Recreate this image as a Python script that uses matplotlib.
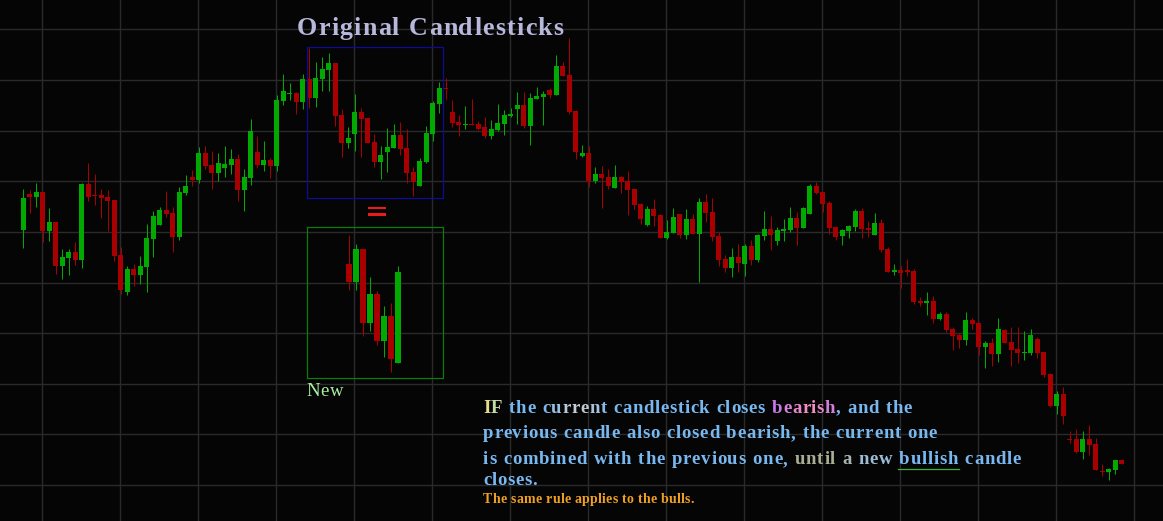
import numpy as np
import matplotlib
matplotlib.use("Agg")
import matplotlib.pyplot as plt
from matplotlib.patches import Rectangle

W, H, DPI = 1163, 521, 100

# ---------------- data (price levels in chart rows: larger value = lower price) -------------
opens = [230, 194, 197, 192, 231, 222, 266, 258, 252, 260, 184, 195, 195, 197, 200, 255, 292, 269, 275, 267,
         239, 225, 210, 213, 237, 193, 177, 180, 153, 165, 173, 168, 165, 159, 190, 178, 152, 165, 160, 166,
         101, 93.5, 93, 102, 79, 98, 79, 70, 63, 115, 143, 134, 112, 118, 142, 162, 152, 148, 135, 148,
         172, 186, 162, 134, 104, 88, 112, 122, 124.5, 124, 124, 127, 136, 130, 124, 116, 109, 105, 126, 99,
         97, 90, 95, 66, 75, 111, 156, 153, 181, 174, 177, 188, 177, 181, 189, 204, 225, 209, 215, 238,
         233, 214, 235, 219, 234, 202, 212, 236, 259, 268, 257, 264, 246, 260, 236, 229, 241, 231, 230, 218,
         228, 214, 186, 192, 203, 227, 236, 231, 227, 211, 228, 235, 223, 249, 272, 270, 270, 271, 301, 303,
         301, 319, 314, 329, 335, 340, 320, 323, 347, 343, 354, 330, 342, 349, 352.5, 353, 339, 352, 374, 406,
         394, 439, 439, 452, 439, 444, 471, 472, 470, 460]
highs = [189, 190, 183, 192, 208, 222, 249, 249, 242, 183, 163, 174, 189, 190, 200, 247, 266, 264, 256, 224,
         211, 207, 191, 207, 187, 175, 170, 147, 146, 151, 153, 146, 149, 154, 169, 119, 136, 141, 158, 95,
         74, 83, 92, 74, 48, 62, 57, 53, 63, 109, 127, 94, 108, 118, 134, 146, 128, 124, 122, 129,
         167, 158, 126, 101, 82, 78, 100, 115, 106, 99, 121, 117, 120, 104, 110, 108, 92, 92, 93, 87,
         91, 88, 55, 62, 38, 110, 145, 146, 167, 166, 169, 165, 176, 171, 189, 203, 206, 199, 214, 220,
         208, 214, 209, 214, 198, 194, 198, 232, 255, 248, 244, 244, 240, 234, 211, 216, 227, 219, 207, 212,
         207, 184, 182, 192, 201, 227, 229, 225, 209, 208, 221, 213, 219, 247, 264, 266, 259, 269, 297, 292,
         296, 312, 312, 327, 333, 312, 318, 322, 341, 338, 318, 329, 327, 327, 331, 329, 337, 352, 373, 391,
         387, 431, 429, 431, 425, 438, 464, 468, 460, 459]
lows = [248, 213, 207, 242, 241, 274, 279, 275, 265, 268, 201, 205, 218, 231, 261, 294, 295, 286, 284, 292,
        257, 225, 217, 252, 240, 195, 186, 183, 169, 189, 181, 177, 174, 201, 211, 185, 168, 171, 178, 171,
        105, 100, 114, 109, 108, 107, 91, 91, 126, 157, 148, 151, 157, 143, 167, 179, 172, 148, 155, 183,
        196, 186, 163, 141, 113, 99, 127, 136, 129, 125, 130, 138, 139, 131, 135, 117, 124, 128, 145, 99,
        125, 98, 95, 76, 114, 159, 157, 187, 183, 208, 189, 188, 193, 215, 209, 224, 226, 226, 238, 239,
        233, 238, 239, 234, 282, 222, 241, 266, 272, 277, 272, 276, 265, 262, 240, 250, 245, 241, 232, 245,
        228, 214, 194, 212, 234, 240, 245, 238, 231, 238, 237, 235, 252, 272, 275, 288, 276, 304, 306, 315,
        323, 320, 332, 350, 348, 345, 329, 355, 368, 366, 362, 343, 366, 363, 360, 355, 358, 377, 407, 414,
        424, 443, 453, 459, 455, 470, 476, 480, 474, 464]
closes = [198, 197, 192, 231, 222, 266, 257, 252, 260, 184, 197, 196, 198, 201, 256, 290, 269, 275, 266, 238,
          216, 210, 214, 237, 192, 186, 180, 153, 166, 173, 163, 164, 159, 190, 177, 131, 165, 160, 166, 100,
          91, 93, 102, 79, 98, 78, 69, 63, 116, 143, 138, 112, 119, 143, 162, 155, 147, 135, 149, 173,
          182, 161, 133, 103, 88, 88.5, 123, 125, 124, 124.5, 129, 136, 129, 123, 115, 114, 105, 126, 98, 96,
          94, 95, 66, 76, 112, 152, 153, 181, 174, 178, 186, 177, 182, 190, 205, 219, 209, 216, 238, 232,
          217, 235, 219, 234, 202, 213, 237, 260, 268, 257, 263, 246, 260, 235, 229, 235, 230, 229, 218, 228,
          208, 186, 193, 204, 228, 237, 230, 226, 211, 229, 230, 223, 250, 272, 270, 273, 272, 302, 303, 301,
          319, 314, 330, 336, 340, 320, 324, 347, 343, 354, 329, 343, 350, 353, 352, 335, 353, 375, 406, 394,
          416, 440, 452, 439, 445, 470, 471.5, 469, 460, 464]

# combined ("New") candles
new_open = [264, 282, 249, 323, 294, 341, 316, 363]
new_high = [235, 244, 249, 277, 291, 306, 303, 266]
new_low = [290, 290, 336, 331, 345, 357, 372, 363]
new_close = [282, 249, 323, 294, 341, 316, 359, 272]

title_text = "Original Candlesticks"
new_label = "New"
rule_lines = [
    [("IF", ["#e6dc8c", "#c4dca4"]), (" the ", "B"), ("current", "CUR"), (" candlestick closes ", "B"),
     ("bearish", "BEAR"), (", and the", "B")],
    [("previous candle also closed bearish, the current one", "B")],
    [("is combined with the previous one, ", "B"), ("until", "#a8ad94"), (" a ", "#a8b4b0"),
     ("new", "#9cbcd6"), (" ", "B"), ("bullish", "B"), (" candle", "B")],
    [("closes.", "B")],
]
footnote = "The same rule applies to the bulls."

# ---------------- styling ----------------
BG = "#050505"
GRID = "#2a2a2a"
GREEN = "#00aa00"
RED = "#a80000"
BLUE = "#78b8f0"
CUR = ["#7cb8ee", "#96c0e4", "#b4cad8", "#c4ccd0", "#c0c8d0", "#a8c0d8", "#88bae8"]
BEAR = ["#c878e8", "#d880dc", "#e888cc", "#f08cc0", "#f090c0", "#e888c8", "#d080d8"]
SERIF = ["Liberation Serif", "DejaVu Serif"]

fig = plt.figure(figsize=(W / DPI, H / DPI), dpi=DPI, facecolor=BG)


def draw_candles(ax, o, h, l, c, width):
    o, h, l, c = map(np.asarray, (o, h, l, c))
    x = np.arange(len(o))
    bull = c < o
    col = np.where(bull, GREEN, RED)
    ax.vlines(x, h, l, colors=col, linewidth=0.72, zorder=3)
    top = np.minimum(o, c)
    ht = np.maximum(np.abs(c - o), 1.0)
    ax.bar(x, ht, width=width, bottom=top, color=col, linewidth=0, zorder=4)


# main chart axes
ax = fig.add_axes([0, 0, 1, 1])
ax.set_facecolor(BG)
step = 6.5
x0px = 23.3
ax.set_xlim(-x0px / step, (W - x0px) / step)
ax.set_ylim(H, 0)
ax.set_xticks(np.arange((42.3 - x0px) / step, len(opens) + 8, 12))
ax.set_yticks(29.4 + 50.625 * np.arange(10))
ax.grid(True, color=GRID, linewidth=1.0, zorder=0)
ax.set_axisbelow(True)
ax.tick_params(length=0, labelbottom=False, labelleft=False)
for s in ax.spines.values():
    s.set_visible(False)
draw_candles(ax, opens, highs, lows, closes, 5 / step)

# "New" panel axes
ax2 = fig.add_axes([0, 0, 1, 1])
ax2.patch.set_visible(False)
ax2.set_axis_off()
nstep = 7.0
nx0 = 348.7
ax2.set_xlim(-nx0 / nstep, (W - nx0) / nstep)
ax2.set_ylim(H, 0)
draw_candles(ax2, new_open, new_high, new_low, new_close, 6 / nstep)

# pixel overlay for annotations
ov = fig.add_axes([0, 0, 1, 1])
ov.patch.set_visible(False)
ov.set_axis_off()
ov.set_xlim(0, W)
ov.set_ylim(H, 0)

ov.add_patch(Rectangle((306.5, 46.5), 136, 151, fill=False, edgecolor="#0c0c96", linewidth=0.9, zorder=5))
ov.add_patch(Rectangle((306.5, 226.5), 136, 151, fill=False, edgecolor="#0c7c0c", linewidth=0.9, zorder=5))
ov.add_patch(Rectangle((368, 207), 18, 2.4, color="#f01818", linewidth=0, zorder=5))
ov.add_patch(Rectangle((368, 213.3), 18, 2.4, color="#f01818", linewidth=0, zorder=5))
ov.plot([0, W], [520.5, 520.5], color="#5a5a5a", linewidth=0.72, linestyle=(0, (3, 3)), zorder=6)

renderer = fig.canvas.get_renderer()


def tracked(x0, y, segments, size, weight, right, space_em=0.28):
    chars = []
    for txt, col in segments:
        if col == "B":
            col = BLUE
        elif col == "CUR":
            col = CUR
        elif col == "BEAR":
            col = BEAR
        cols = col if isinstance(col, list) else [col] * len(txt)
        chars += list(zip(txt, cols))
    fp = dict(fontsize=size, fontweight=weight, family=SERIF)
    widths = []
    for ch, _ in chars:
        if ch == " ":
            widths.append(None)
        else:
            t = ov.text(0, 0, ch, **fp)
            widths.append(t.get_window_extent(renderer).width)
            t.remove()
    sp = space_em * size * DPI / 72
    ink = sum(w if w is not None else sp for w in widths)
    track = (right - x0 - ink) / max(len(chars) - 1, 1)
    x = x0
    pos = []
    for (ch, c), w in zip(chars, widths):
        if ch == " ":
            pos.append((x, x + sp))
            x += sp + track
        else:
            ov.text(x, y, ch, color=c, va="baseline", ha="left", zorder=7, **fp)
            pos.append((x, x + w))
            x += w + track
    return chars, pos


tracked(297, 35, [(title_text, "#b8b8dc")], 18.7, "bold", 563)
tracked(306, 396, [(new_label, "#a8f0a0")], 13.5, "normal", 343)

baselines = [412.7, 438.3, 464, 485]
rights = [912, 937, 1021, 537]
for segs, yb, r in zip(rule_lines, baselines, rights):
    chars, pos = tracked(483, yb, segs, 13.5, "bold", r)
    text = "".join(ch for ch, _ in chars)
    k = text.find("bullish")
    if k >= 0:
        ov.plot([pos[k][0] - 1, pos[k + 6][1] + 1], [468.5, 468.5], color="#40b040", linewidth=0.9, zorder=7)

tracked(483, 503, [(footnote, "#f0a020")], 10, "bold", 694)

fig.savefig("out.png", dpi=DPI, facecolor=BG)
